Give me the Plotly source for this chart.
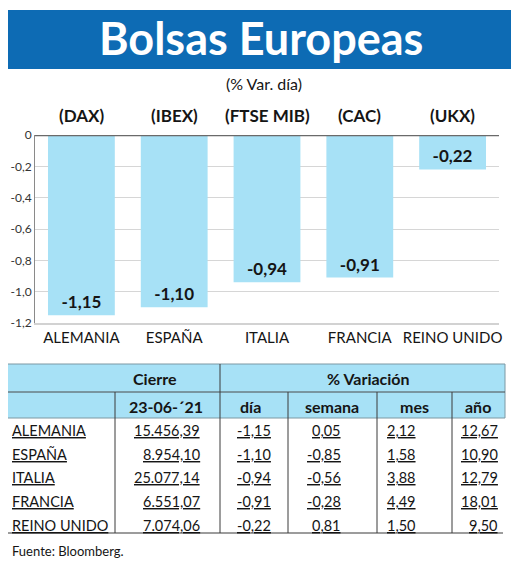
import plotly.graph_objects as go

# la pagina deja 8px de margen: la figura se desplaza para compensar
OFF = 8
W, H = 520 - OFF, 564 - OFF

# datos
paises = ["ALEMANIA", "ESPAÑA", "ITALIA", "FRANCIA", "REINO UNIDO"]
indices = ["(DAX)", "(IBEX)", "(FTSE MIB)", "(CAC)", "(UKX)"]
var_dia = [-1.15, -1.10, -0.94, -0.91, -0.22]
cierre = [15456.39, 8954.10, 25077.14, 6551.07, 7074.06]
var_semana = [0.05, -0.85, -0.56, -0.28, 0.81]
var_mes = [2.12, 1.58, 3.88, 4.49, 1.50]
var_anio = [12.67, 10.90, 12.79, 18.01, 9.50]
fecha = "23-06-´21"
cab_sub = [fecha, "día", "semana", "mes", "año"]
y_ticks = [0, -0.2, -0.4, -0.6, -0.8, -1.0, -1.2]
y_tick_labels = ["0", "-0,2", "-0,4", "-0,6", "-0,8", "-1,0", "-1,2"]

FONT = "Lato, Roboto, sans-serif"
AZUL = "#0D6BB4"
CELESTE = "#A7E1F6"
TXT = "#151515"


def es(v):
    # formato numerico espanol: 15.456,39
    return f"{v:,.2f}".replace(",", " ").replace(".", ",").replace(" ", ".")


def X(p):
    return (p - OFF) / W


def Y(p):
    return 1 - (p - OFF) / H


fig = go.Figure()
fig.add_trace(go.Bar(
    x=paises, y=var_dia,
    marker=dict(color=CELESTE, line=dict(width=0)),
    text=[es(v) for v in var_dia],
    textposition="inside", insidetextanchor="end", textangle=0,
    constraintext="none",
    textfont=dict(family=FONT, size=17, color=TXT, weight="bold"),
    hoverinfo="skip",
))

shapes = []
annots = []

# banda del titulo
shapes.append(dict(type="rect", xref="paper", yref="paper",
                   x0=X(5), x1=X(511), y0=Y(69), y1=Y(10),
                   fillcolor=AZUL, line=dict(width=0), layer="below"))
annots.append(dict(text="<b>Bolsas Europeas</b>", x=X(261), y=Y(38),
                   font=dict(family=FONT, size=45, color="white")))
annots.append(dict(text="(% Var. día)", x=X(264), y=Y(83),
                   font=dict(family=FONT, size=16, color=TXT)))

# indices encima de cada barra
for p, t in zip(paises, indices):
    annots.append(dict(text="<b>" + t + "</b>", x=p, xref="x", y=Y(115),
                       font=dict(family=FONT, size=17, color=TXT)))

# linea del cero
shapes.append(dict(type="line", xref="x domain", yref="y", x0=0, x1=1,
                   y0=0, y1=0, line=dict(color="#6a6a6a", width=2.5),
                   layer="above"))

# tabla
cols = [7, 115, 220, 288, 377, 452, 505]
top, mid, head_bot = 364, 392, 418
row_lines = [438, 462, 485, 509, 533]

shapes.append(dict(type="rect", xref="paper", yref="paper",
                   x0=X(cols[0]), x1=X(cols[-1]), y0=Y(head_bot), y1=Y(top),
                   fillcolor=CELESTE, line=dict(color="#7c98a3", width=1)))
shapes.append(dict(type="line", xref="paper", yref="paper",
                   x0=X(cols[0]), x1=X(cols[-1]), y0=Y(mid), y1=Y(mid),
                   line=dict(color="#4a4a4a", width=1)))
for c in cols[1:-1]:
    y_start = top if c == 220 else mid
    shapes.append(dict(type="line", xref="paper", yref="paper",
                       x0=X(c), x1=X(c), y0=Y(y_start), y1=Y(row_lines[-1]),
                       line=dict(color="#3a3a3a", width=1)))
shapes.append(dict(type="line", xref="paper", yref="paper",
                   x0=X(cols[0]), x1=X(cols[-1] - 2), y0=Y(row_lines[-1]),
                   y1=Y(row_lines[-1]), line=dict(color="#3a3a3a", width=1.2)))

hfont = dict(family=FONT, size=16, color=TXT)
annots.append(dict(text="<b>Cierre</b>", x=X(155), y=Y(378), font=hfont))
annots.append(dict(text="<b>% Variación</b>", x=X(368), y=Y(378), font=hfont))
sub_x = [166, 250, 332, 414, 478]
for t, sx in zip(cab_sub, sub_x):
    annots.append(dict(text="<b>" + t + "</b>", x=X(sx), y=Y(406), font=hfont))

bfont = dict(family=FONT, size=14.5, color=TXT, lineposition="under")
num_right = [202, 273, 343, 418, 500]
for r, p in enumerate(paises):
    yc = Y(row_lines[r] - 8)
    annots.append(dict(text=p, x=X(10), y=yc, xanchor="left", font=bfont))
    vals = [cierre[r], var_dia[r], var_semana[r], var_mes[r], var_anio[r]]
    for v, xr in zip(vals, num_right):
        annots.append(dict(text=es(v), x=X(xr), y=yc, xanchor="right",
                           font=bfont))

annots.append(dict(text="Fuente: Bloomberg.", x=X(10), y=Y(551),
                   xanchor="left",
                   font=dict(family=FONT, size=13, color=TXT)))

for a in annots:
    a.setdefault("xref", "paper")
    a.setdefault("yref", "paper")
    a.setdefault("xanchor", "center")
    a.setdefault("yanchor", "middle")
    a["showarrow"] = False

fig.update_layout(
    width=W, height=H,
    margin=dict(l=0, r=0, t=0, b=0, autoexpand=False),
    paper_bgcolor="white", plot_bgcolor="white",
    bargap=0.28, showlegend=False,
    shapes=shapes, annotations=annots,
    xaxis=dict(domain=[X(35), X(499)], showgrid=False, ticks="",
               showline=True, linecolor="#d2d2d2", linewidth=1.5,
               tickangle=0, automargin=False,
               tickfont=dict(family=FONT, size=15, color=TXT),
               fixedrange=True),
    yaxis=dict(domain=[Y(323), Y(135)], range=[-1.2, 0],
               tickvals=y_ticks, ticktext=y_tick_labels, ticks="",
               automargin=False,
               tickfont=dict(family=FONT, size=12, color="#333"),
               showgrid=True, gridcolor="#d6d6d6", gridwidth=1,
               zeroline=False, showline=True, linecolor="#8a8a8a",
               fixedrange=True),
)

fig.write_html("out.html")
